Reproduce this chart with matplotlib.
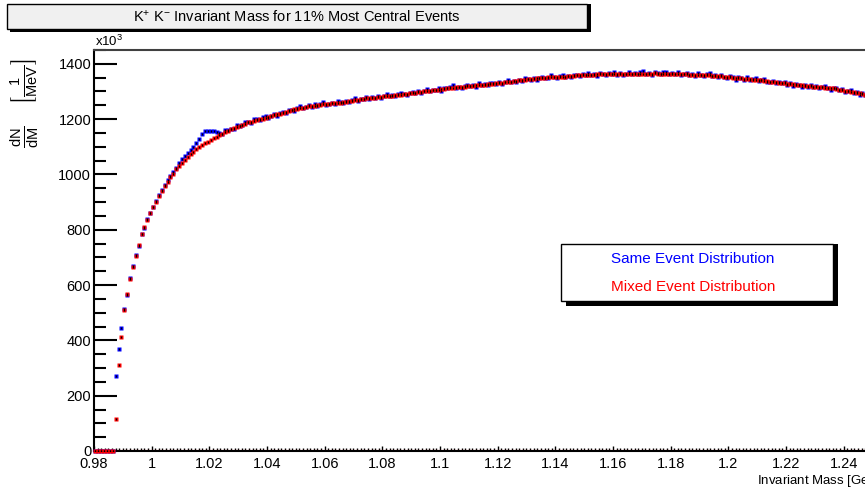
import matplotlib
matplotlib.use('Agg')
import matplotlib.pyplot as plt
import numpy as np
from matplotlib.patches import Rectangle
from matplotlib.ticker import MultipleLocator

plt.rcParams['font.family'] = ['Liberation Sans Narrow', 'Liberation Sans', 'DejaVu Sans']
plt.rcParams['mathtext.default'] = 'regular'

# K+K- pair counts per 1 MeV bin (units of 10^3), first bin centred at 0.9805 GeV
bin_start = 0.9805
bin_width = 0.001

mixed_event = [
    0, 0, 0, 0, 0, 0, 0,
    114, 312, 414, 510, 567, 621, 667, 705, 745, 784,
    810, 836, 860, 882, 902, 922, 940, 958, 974, 990,
    1003, 1018, 1031, 1043, 1053, 1063, 1073, 1082, 1091, 1100,
    1107, 1113, 1119, 1125, 1131, 1137, 1143, 1148, 1153, 1158,
    1163, 1168, 1172, 1176, 1180, 1184, 1188, 1191, 1194, 1197,
    1200, 1202, 1204, 1207, 1211, 1214, 1217, 1220, 1223, 1226,
    1229, 1232, 1235, 1238, 1240, 1242, 1244, 1246, 1247, 1249,
    1250, 1252, 1253, 1255, 1256, 1257, 1258, 1259, 1260, 1261,
    1262, 1264, 1266, 1268, 1270, 1272, 1274, 1275, 1276, 1277,
    1278, 1280, 1281, 1282, 1283, 1284, 1285, 1287, 1288, 1289,
    1291, 1292, 1293, 1294, 1296, 1297, 1299, 1300, 1302, 1303,
    1304, 1306, 1307, 1308, 1310, 1311, 1312, 1314, 1315, 1316,
    1317, 1318, 1319, 1320, 1321, 1322, 1323, 1324, 1325, 1326,
    1327, 1328, 1329, 1330, 1332, 1333, 1334, 1336, 1337, 1339,
    1340, 1341, 1342, 1344, 1345, 1346, 1347, 1348, 1349, 1350,
    1351, 1352, 1352, 1353, 1353, 1354, 1354, 1355, 1356, 1357,
    1358, 1358, 1359, 1360, 1360, 1361, 1361, 1362, 1362, 1362,
    1362, 1363, 1363, 1363, 1363, 1364, 1363, 1363, 1363, 1364,
    1364, 1364, 1365, 1365, 1365, 1365, 1365, 1366, 1365, 1365,
    1365, 1365, 1364, 1364, 1364, 1363, 1363, 1362, 1362, 1361,
    1361, 1360, 1360, 1359, 1359, 1358, 1358, 1357, 1356, 1356,
    1355, 1354, 1352, 1351, 1350, 1349, 1348, 1347, 1346, 1345,
    1344, 1343, 1342, 1341, 1340, 1339, 1337, 1336, 1335, 1334,
    1332, 1331, 1330, 1328, 1327, 1326, 1324, 1323, 1322, 1321,
    1320, 1319, 1318, 1317, 1316, 1315, 1314, 1313, 1312, 1311,
    1309, 1307, 1305, 1303, 1301, 1299, 1297, 1295, 1293, 1291,
    1289, 1287,
]

same_event = [
    0, 0, 0, 0, 0, 0, 0,
    272, 368, 444, 512, 565, 624, 669, 708, 742, 786,
    806, 838, 862, 884, 905, 925, 944, 962, 980, 996,
    1010, 1025, 1040, 1055, 1066, 1077, 1087, 1098, 1112, 1128,
    1148, 1156, 1157, 1156, 1156, 1155, 1150, 1148, 1160, 1162,
    1166, 1166, 1178, 1176, 1177, 1189, 1189, 1187, 1201, 1199,
    1197, 1207, 1212, 1205, 1212, 1220, 1212, 1223, 1225, 1222,
    1233, 1232, 1229, 1241, 1247, 1240, 1245, 1251, 1244, 1255,
    1248, 1256, 1261, 1252, 1256, 1259, 1253, 1265, 1261, 1257,
    1267, 1263, 1269, 1275, 1266, 1274, 1274, 1281, 1273, 1281,
    1276, 1283, 1276, 1283, 1291, 1283, 1289, 1284, 1290, 1295,
    1291, 1288, 1295, 1299, 1294, 1300, 1293, 1301, 1309, 1302,
    1307, 1304, 1313, 1303, 1312, 1311, 1316, 1322, 1312, 1317,
    1313, 1320, 1324, 1319, 1324, 1316, 1330, 1324, 1327, 1323,
    1332, 1329, 1327, 1334, 1327, 1336, 1342, 1335, 1339, 1335,
    1343, 1338, 1348, 1345, 1343, 1350, 1341, 1350, 1354, 1350,
    1349, 1358, 1353, 1349, 1356, 1361, 1353, 1357, 1351, 1361,
    1360, 1355, 1364, 1360, 1368, 1359, 1364, 1357, 1366, 1363,
    1359, 1367, 1364, 1370, 1361, 1367, 1359, 1365, 1369, 1364,
    1367, 1362, 1370, 1374, 1364, 1367, 1361, 1372, 1366, 1362,
    1369, 1372, 1362, 1367, 1364, 1371, 1358, 1364, 1367, 1358,
    1363, 1356, 1366, 1360, 1356, 1363, 1366, 1355, 1359, 1351,
    1359, 1354, 1349, 1356, 1352, 1343, 1351, 1348, 1342, 1351,
    1342, 1346, 1347, 1337, 1341, 1345, 1334, 1336, 1339, 1329,
    1335, 1330, 1336, 1325, 1329, 1321, 1328, 1324, 1316, 1323,
    1317, 1324, 1318, 1320, 1312, 1317, 1320, 1311, 1307, 1312,
    1313, 1305, 1308, 1298, 1302, 1305, 1294, 1297, 1289, 1294,
    1287, 1291,
]

mass = bin_start + bin_width * np.arange(len(mixed_event))

W, H = 865, 492
fig = plt.figure(figsize=(W / 100, H / 100), dpi=100)
fig.patch.set_facecolor('white')

def fx(px):
    return px / W

def fy(py):
    return 1 - py / H

# frame: x = 0.98 sits at pixel 94, 0.001 GeV per 2.883 px; the range runs past the right edge
ax = fig.add_axes([fx(94), fy(451), 0.28 * 2883.3 / W, 401 / H])
ax.set_xlim(0.98, 1.26)
ax.set_ylim(0, 1450)

ax.axhline(0, color='red', lw=1.5, zorder=2)
ax.plot(mass, same_event, ls='none', marker='s', ms=3.4, mec='none', mfc='blue',
        zorder=3, clip_on=False)
ax.plot(mass, mixed_event, ls='none', marker='s', ms=3.4, mec='none', mfc='red',
        zorder=4, clip_on=False)
ax.plot(mass, same_event, ls='none', marker='|', ms=1.8, mew=0.9, color='black', zorder=5)
ax.plot(mass, mixed_event, ls='none', marker='|', ms=1.8, mew=0.9, color='black', zorder=5)

ax.spines['right'].set_visible(False)
ax.spines['left'].set_linewidth(1.5)
ax.spines['bottom'].set_linewidth(1.5)
ax.spines['top'].set_linewidth(1.5)
ax.spines['top'].set_color('#404040')

ax.yaxis.set_major_locator(MultipleLocator(200))
ax.yaxis.set_minor_locator(MultipleLocator(50))
ax.xaxis.set_major_locator(MultipleLocator(0.02))
ax.xaxis.set_minor_locator(MultipleLocator(0.00125))
ax.tick_params(axis='y', which='major', direction='in', length=16.5, width=1.5, pad=2,
               labelsize=10.5, right=False)
ax.tick_params(axis='y', which='minor', direction='in', length=8.6, width=1.5, right=False)
ax.tick_params(axis='x', which='major', direction='in', length=3.5, width=1.0, pad=4,
               labelsize=10.5, top=False)
ax.tick_params(axis='x', which='minor', direction='in', length=2.0, width=1.0, top=False)
ax.set_xticks(np.round(np.arange(0.98, 1.2401, 0.02), 2))
ax.set_xticklabels(['0.98', '1', '1.02', '1.04', '1.06', '1.08', '1.1', '1.12', '1.14',
                    '1.16', '1.18', '1.2', '1.22', '1.24'])

fig.text(fx(95), fy(41), r'x10$^{3}$', fontsize=9.5, ha='left', va='center')
fig.text(fx(757), fy(481), r'Invariant Mass [GeV/c$^{2}$]', fontsize=9.5,
         ha='left', va='center')
fig.text(fx(25), fy(103), r'$\frac{dN}{dM}\ \ \ \left[\frac{1}{MeV}\right]$', fontsize=15,
         rotation=90, ha='center', va='center')

# title pave with shadow
fig.patches.append(Rectangle((fx(10), fy(32)), fx(581), 28 / H, transform=fig.transFigure,
                             facecolor='black', edgecolor='none', zorder=1))
fig.patches.append(Rectangle((fx(7), fy(29)), fx(580), 25 / H, transform=fig.transFigure,
                             facecolor='#f0f0f0', edgecolor='black', lw=1, zorder=2))
fig.text(fx(297), fy(17), r'K$^{+}$ K$^{-}$ Invariant Mass for 11% Most Central Events',
         fontsize=10.5, ha='center', va='center', zorder=3)

# legend pave with shadow
fig.patches.append(Rectangle((fx(566), fy(306)), fx(272), 62 / H, transform=fig.transFigure,
                             facecolor='black', edgecolor='none', zorder=1))
fig.patches.append(Rectangle((fx(561), fy(301)), fx(272), 57 / H, transform=fig.transFigure,
                             facecolor='white', edgecolor='black', lw=1, zorder=2))
fig.text(fx(693), fy(259), 'Same Event Distribution', color='blue', fontsize=11,
         ha='center', va='center', zorder=3)
fig.text(fx(693), fy(287), 'Mixed Event Distribution', color='red', fontsize=11,
         ha='center', va='center', zorder=3)

fig.savefig('out.png', dpi=100)
